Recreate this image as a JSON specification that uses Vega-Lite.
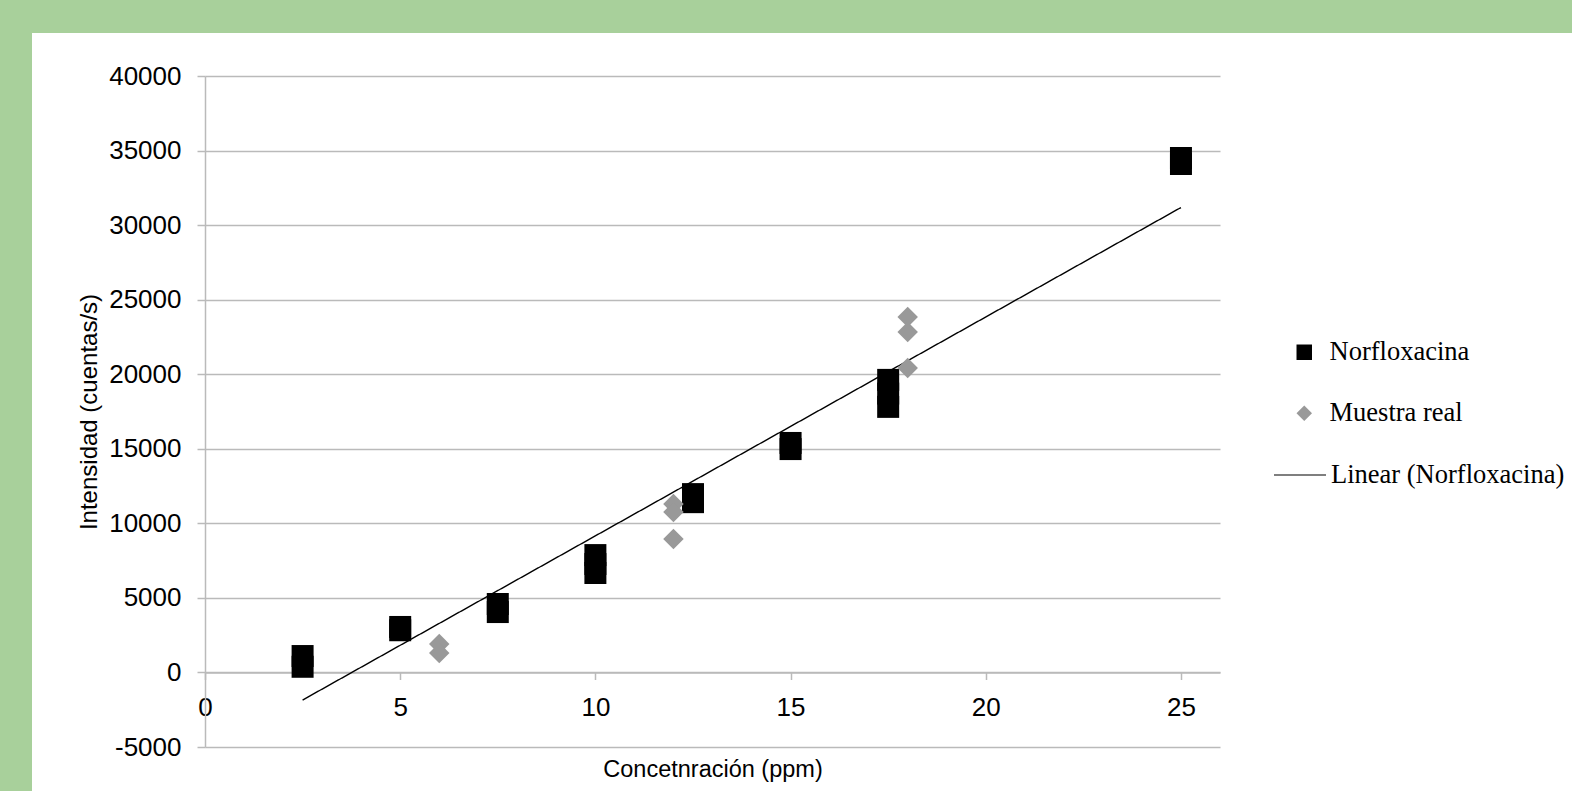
{
  "$schema": "https://vega.github.io/schema/vega-lite/v6.json",
  "width": 1540,
  "height": 758,
  "autosize": {"type": "none"},
  "padding": {"left": 32, "top": 33, "right": 0, "bottom": 0},
  "background": "#a8d09b",
  "view": {"fill": "white", "stroke": null},
  "config": {"font": "Liberation Sans"},
  "encoding": {
    "x": {
      "field": "x",
      "type": "quantitative",
      "scale": {"domain": [0, 26], "range": [173, 1188], "nice": false, "zero": false},
      "axis": {
        "values": [0, 5, 10, 15, 20, 25],
        "grid": false,
        "offset": -118.5,
        "domainColor": "#bababa",
        "domainWidth": 1.5,
        "tickColor": "#bababa",
        "tickWidth": 1.5,
        "tickSize": 7,
        "labelFont": "Liberation Sans",
        "labelFontSize": 26,
        "labelColor": "black",
        "labelPadding": 15,
        "labelFlush": false,
        "labelOverlap": false,
        "title": "Concetnración (ppm)",
        "titleFont": "Liberation Sans",
        "titleFontSize": 23.5,
        "titleFontWeight": "normal",
        "titleColor": "black",
        "titlePadding": 37
      }
    },
    "y": {
      "field": "y",
      "type": "quantitative",
      "scale": {"domain": [-5000, 40000], "range": [714, 43], "nice": false, "zero": false},
      "axis": {
        "values": [-5000, 0, 5000, 10000, 15000, 20000, 25000, 30000, 35000, 40000],
        "labelExpr": "'' + datum.value",
        "grid": true,
        "gridColor": "#bababa",
        "gridWidth": 1.5,
        "offset": -173,
        "domainColor": "#bababa",
        "domainWidth": 1.5,
        "tickColor": "#bababa",
        "tickWidth": 1.5,
        "tickSize": 8,
        "labelFont": "Liberation Sans",
        "labelFontSize": 26,
        "labelColor": "black",
        "labelPadding": 16,
        "labelFlush": false,
        "labelOverlap": false,
        "title": "Intensidad (cuentas/s)",
        "titleFont": "Liberation Sans",
        "titleFontSize": 24,
        "titleFontWeight": "normal",
        "titleColor": "black",
        "titlePadding": 7
      }
    }
  },
  "layer": [
    {
      "data": {"values": [{"frame": 1}]},
      "mark": {"type": "rule", "color": "#bababa", "strokeWidth": 1.5},
      "encoding": {
        "x": {"datum": 26, "type": "quantitative"},
        "y": {"datum": -5000, "type": "quantitative"},
        "y2": {"datum": 40000}
      }
    },
    {
      "data": {"values": [
        {"x": 2.5, "y": -1850, "serie": "Linear (Norfloxacina)"},
        {"x": 25, "y": 31180, "serie": "Linear (Norfloxacina)"}
      ]},
      "mark": {"type": "line", "color": "black", "strokeWidth": 1.4},
      "encoding": {
        "strokeDash": {
          "field": "serie",
          "type": "nominal",
          "scale": {"range": [[1, 0]]},
          "legend": {
            "title": null,
            "orient": "none",
            "legendX": 1241,
            "legendY": 415,
            "padding": 0,
            "labelFont": "Liberation Serif",
            "labelFontSize": 26.5,
            "labelColor": "black",
            "labelLimit": 500,
            "labelOffset": 4,
            "symbolSize": 2704,
            "symbolStrokeColor": "black",
            "symbolStrokeWidth": 1.2
          }
        }
      }
    },
    {
      "data": {"values": [
        {"x": 2.5, "y": 1100, "serie": "Norfloxacina"},
        {"x": 2.5, "y": 380, "serie": "Norfloxacina"},
        {"x": 5, "y": 3050, "serie": "Norfloxacina"},
        {"x": 5, "y": 2830, "serie": "Norfloxacina"},
        {"x": 7.5, "y": 4590, "serie": "Norfloxacina"},
        {"x": 7.5, "y": 4050, "serie": "Norfloxacina"},
        {"x": 10, "y": 7870, "serie": "Norfloxacina"},
        {"x": 10, "y": 7270, "serie": "Norfloxacina"},
        {"x": 10, "y": 6670, "serie": "Norfloxacina"},
        {"x": 12.5, "y": 11960, "serie": "Norfloxacina"},
        {"x": 12.5, "y": 11420, "serie": "Norfloxacina"},
        {"x": 15, "y": 15390, "serie": "Norfloxacina"},
        {"x": 15, "y": 14980, "serie": "Norfloxacina"},
        {"x": 17.5, "y": 19620, "serie": "Norfloxacina"},
        {"x": 17.5, "y": 18700, "serie": "Norfloxacina"},
        {"x": 17.5, "y": 17810, "serie": "Norfloxacina"},
        {"x": 25, "y": 34500, "serie": "Norfloxacina"},
        {"x": 25, "y": 34100, "serie": "Norfloxacina"}
      ]},
      "mark": {"type": "point", "filled": true, "opacity": 1, "strokeWidth": 0, "size": 484},
      "encoding": {
        "color": {
          "field": "serie",
          "type": "nominal",
          "scale": {"domain": ["Norfloxacina", "Muestra real"], "range": ["black", "#999999"]},
          "legend": {
            "title": null,
            "orient": "none",
            "legendX": 1259,
            "legendY": 306,
            "padding": 0,
            "labelFont": "Liberation Serif",
            "labelFontSize": 26.5,
            "labelColor": "black",
            "labelLimit": 500,
            "labelOffset": 12,
            "symbolSize": 240,
            "rowPadding": 34
          }
        },
        "shape": {
          "field": "serie",
          "type": "nominal",
          "scale": {"domain": ["Norfloxacina", "Muestra real"], "range": ["square", "diamond"]}
        }
      }
    },
    {
      "data": {"values": [
        {"x": 6, "y": 1905, "serie": "Muestra real"},
        {"x": 6, "y": 1300, "serie": "Muestra real"},
        {"x": 12, "y": 11290, "serie": "Muestra real"},
        {"x": 12, "y": 10760, "serie": "Muestra real"},
        {"x": 12, "y": 8950, "serie": "Muestra real"},
        {"x": 18, "y": 23840, "serie": "Muestra real"},
        {"x": 18, "y": 22830, "serie": "Muestra real"},
        {"x": 18, "y": 20420, "serie": "Muestra real"}
      ]},
      "mark": {"type": "point", "filled": true, "opacity": 1, "strokeWidth": 0, "size": 420},
      "encoding": {
        "color": {"field": "serie", "type": "nominal"},
        "shape": {"field": "serie", "type": "nominal"}
      }
    }
  ]
}
